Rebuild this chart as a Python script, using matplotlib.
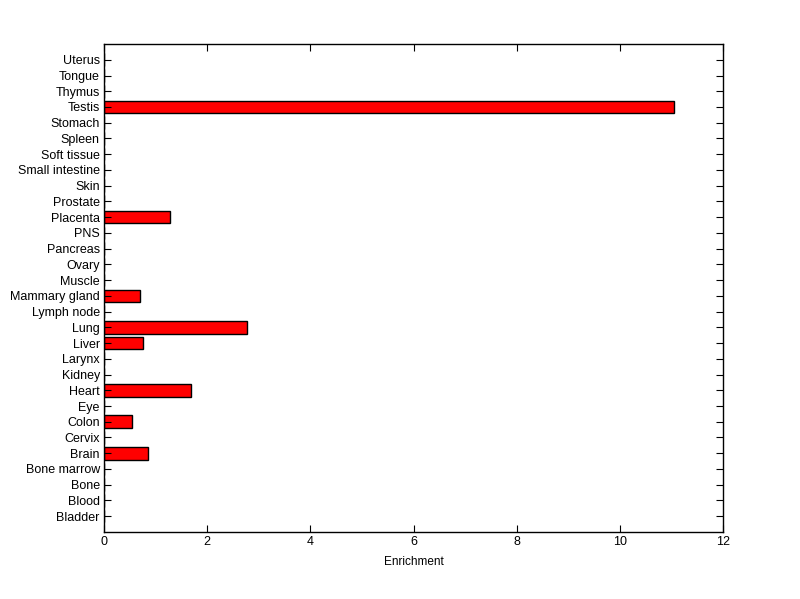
import matplotlib
matplotlib.use('Agg')
import matplotlib.pyplot as plt

tissues = ['Bladder', 'Blood', 'Bone', 'Bone marrow', 'Brain', 'Cervix', 'Colon', 'Eye',
           'Heart', 'Kidney', 'Larynx', 'Liver', 'Lung', 'Lymph node', 'Mammary gland',
           'Muscle', 'Ovary', 'Pancreas', 'PNS', 'Placenta', 'Prostate', 'Skin',
           'Small intestine', 'Soft tissue', 'Spleen', 'Stomach', 'Testis', 'Thymus',
           'Tongue', 'Uterus']
enrichment = [0, 0, 0, 0, 0.86, 0, 0.55, 0,
              1.69, 0, 0, 0.76, 2.78, 0, 0.70,
              0, 0, 0, 0, 1.27, 0, 0,
              0, 0, 0, 0, 11.04, 0,
              0, 0]

plt.rcParams['font.family'] = ['Liberation Sans', 'DejaVu Sans']

fig = plt.figure(figsize=(8, 5.99), dpi=100)
ax = fig.add_axes([0.13, 0.112, 0.774, 0.8145])

pos = list(range(1, len(tissues) + 1))
ax.barh(pos, enrichment, height=0.8, color='red', edgecolor='black', linewidth=1)

ax.set_xlim(0, 12)
ax.set_ylim(0, len(tissues) + 1)
ax.set_yticks(pos)
ax.set_yticklabels(tissues)
ax.set_xticks(range(0, 13, 2))
ax.set_xlabel('Enrichment', fontsize=8.5, labelpad=6)
ax.tick_params(direction='in', top=True, right=True, labelsize=9, length=5, pad=3)
for s in ax.spines.values():
    s.set_linewidth(1)

fig.savefig('out.png', dpi=100)
